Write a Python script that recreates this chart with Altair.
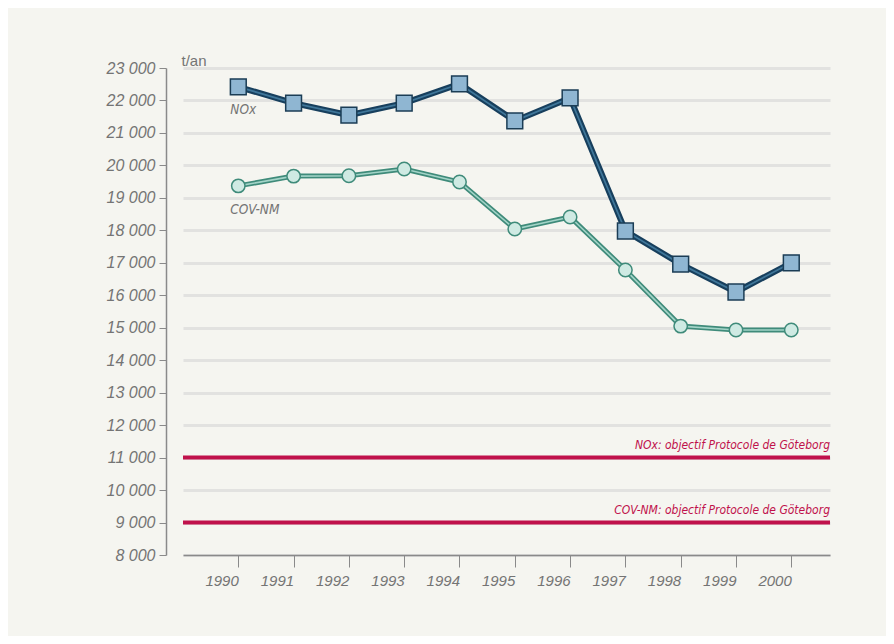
import altair as alt
import pandas as pd

years = [1990, 1991, 1992, 1993, 1994, 1995, 1996, 1997, 1998, 1999, 2000]
nox = [22420, 21920, 21550, 21920, 22510, 21370, 22080, 17980, 16960, 16100, 17000]
covnm = [19370, 19670, 19680, 19890, 19490, 18040, 18410, 16780, 15050, 14930, 14930]
targets = [11000, 9000]
target_labels = ["NOx: objectif Protocole de Göteborg", "COV-NM: objectif Protocole de Göteborg"]
series_names = ["NOx", "COV-NM"]
series_label_pos = [21700, 18630]
y_ticks = list(range(8000, 23001, 1000))

df_nox = pd.DataFrame({"year": years, "value": nox})
df_cov = pd.DataFrame({"year": years, "value": covnm})
df_t = pd.DataFrame({"value": targets, "label": target_labels})
df_lab = pd.DataFrame({"year": [1990, 1990], "value": series_label_pos, "label": series_names})

W, H = 647, 487
COND = "DejaVu Sans Condensed"
xs = alt.Scale(domain=[1989, 2000.7], nice=False, zero=False)
ys = alt.Scale(domain=[8000, 23000], nice=False, zero=False)

X = alt.X("year:Q", scale=xs, axis=alt.Axis(
    values=years, format="d", grid=False, domain=True, domainColor="#8a8a8a", domainWidth=1.5,
    tickColor="#8a8a8a", tickSize=12, tickWidth=1, labelPadding=6, labelFontSize=15,
    labelAlign="right", labelOverlap=False,
    labelFontStyle="italic", labelColor="#747474", labelFont="Liberation Sans", title=None))
Y = alt.Y("value:Q", scale=ys, axis=alt.Axis(
    values=y_ticks, tickCount=16, labelExpr="replace(format(datum.value, ',d'), ',', ' ')", labelOverlap=False,
    grid=True, gridColor="#e2e2e0", gridWidth=3, offset=17, domainColor="#8a8a8a", domainWidth=1.5,
    tickColor="#8a8a8a", tickSize=7, labelFontSize=16, labelFontStyle="italic", labelColor="#747474",
    labelFont="Liberation Sans", labelPadding=4,
    title="t/an", titleAngle=0, titleAlign="left", titleBaseline="bottom", titleX=15, titleY=0,
    titleFont="Liberation Sans", titleFontSize=15, titleFontWeight="normal", titleColor="#747474"))

grid = alt.Chart(df_nox).mark_point(opacity=0).encode(x=X, y=Y)

rules = alt.Chart(df_t).mark_rule(color="#c0114b", strokeWidth=4).encode(y=Y)
rule_text = alt.Chart(df_t).mark_text(align="right", baseline="bottom", dy=-6, fontStyle="italic",
                                      font=COND, fontSize=12, color="#c0114b").encode(
    x=alt.value(W), y=Y, text="label:N")

def line_layers(df, outer, inner, w1, w2):
    a = alt.Chart(df).mark_line(color=outer, strokeWidth=w1).encode(x=X, y=Y)
    b = alt.Chart(df).mark_line(color=inner, strokeWidth=w2).encode(x=X, y=Y)
    return a + b

nox_l = line_layers(df_nox, "#173f5d", "#3f7699", 6, 1.8)
cov_l = line_layers(df_cov, "#3f8b7a", "#a3d4c8", 5, 1.6)

nox_p = alt.Chart(df_nox).mark_point(shape="square", filled=True, size=250, fill="#8fb6d2",
                                     stroke="#1b3d55", strokeWidth=1.5, opacity=1).encode(x=X, y=Y)
cov_p = alt.Chart(df_cov).mark_point(shape="circle", filled=True, size=180, fill="#cfeae3",
                                     stroke="#3f8b7a", strokeWidth=1.5, opacity=1).encode(x=X, y=Y)

labels = alt.Chart(df_lab).mark_text(align="left", baseline="middle", dx=-8, fontStyle="italic",
                                     font=COND, fontSize=13.5, color="#747474").encode(
    x=X, y=Y, text="label:N")

chart = (grid + rules + rule_text + nox_l + cov_l + nox_p + cov_p + labels).properties(
    width=W, height=H,
    autosize=alt.AutoSizeParams(type="none"),
    padding={"left": 175, "top": 60, "right": 56, "bottom": 81},
    background="#f5f5f0",
).configure_view(stroke=None)

chart.save("out.html", embed_options={"renderer": "svg", "actions": False})
